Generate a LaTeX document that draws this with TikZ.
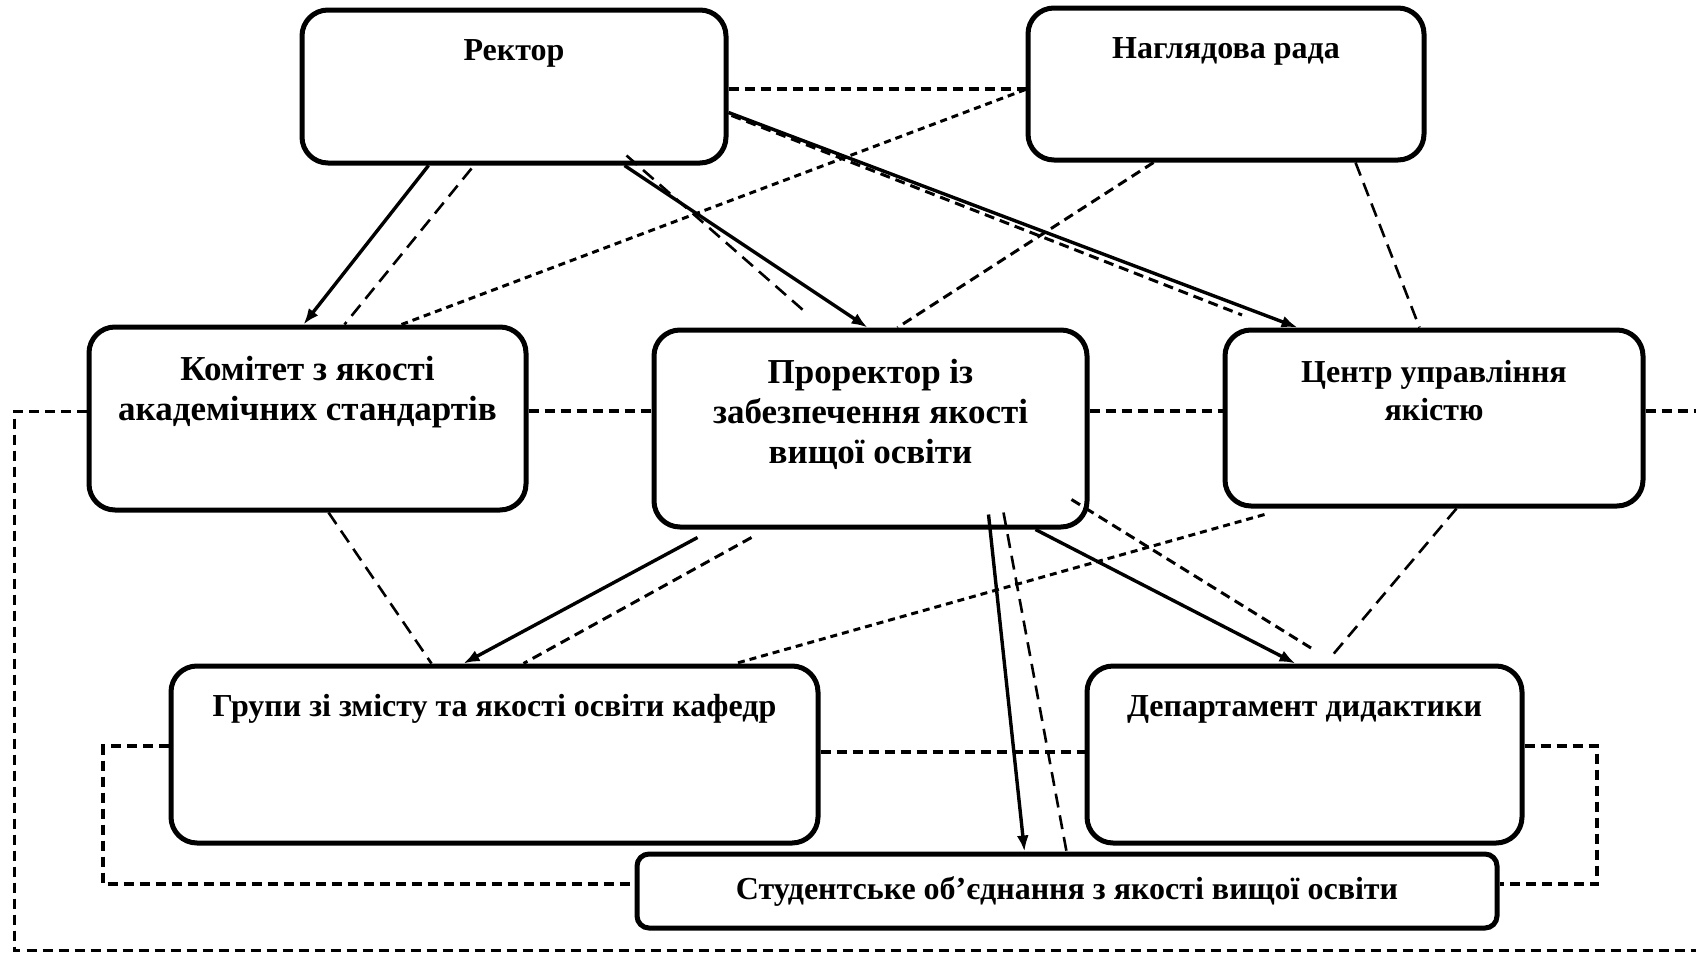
\documentclass[tikz,border=0pt]{standalone}
\usepackage{fontspec}
\setmainfont{Liberation Serif}
\usetikzlibrary{arrows.meta,calc}
\begin{document}
\begin{tikzpicture}[x=0.5pt,y=-0.5pt,
  box/.style={draw, line width=2.5pt, rounded corners=13pt, inner sep=0pt},
  txt/.style={font=\fontsize{16}{19}\selectfont\bfseries, inner sep=0pt, anchor=base},
  bigtxt/.style={txt, font=\fontsize{17.5}{20.2}\selectfont\bfseries},
  arr/.style={line width=1.7pt, -{Latex[length=8pt,width=6pt]}},
  dl/.style={line width=1.3pt, dash pattern=on 7pt off 4pt},
  dm/.style={line width=1.5pt, dash pattern=on 5pt off 3pt},
  ds/.style={line width=1.5pt, dash pattern=on 3.5pt off 2.5pt},
  dh/.style={line width=1.7pt, dash pattern=on 5pt off 3pt},
  frame/.style={line width=1.5pt, dash pattern=on 5pt off 3pt}
]
\fill[white] (0,0) rectangle (1696,953);
\useasboundingbox (0,0) rectangle (1696,953);

% boxes
\node[box, minimum width=212pt, minimum height=76.5pt] (rector) at (514,86.5) {};
\node[box, minimum width=198pt, minimum height=76pt] (nagl) at (1226,84) {};
\node[box, minimum width=218.5pt, minimum height=91.5pt] (komitet) at (307.5,418.5) {};
\node[box, minimum width=216.5pt, minimum height=98.5pt] (prorektor) at (870.5,428.5) {};
\node[box, minimum width=209pt, minimum height=88pt] (centr) at (1434,418) {};
\node[box, minimum width=323.5pt, minimum height=88.5pt] (grupy) at (494.5,754.5) {};
\node[box, minimum width=217.5pt, minimum height=88.5pt] (depart) at (1304.5,754.5) {};
\node[box, rounded corners=6pt, minimum width=430pt, minimum height=37pt] (stud) at (1067,891) {};

% texts
\node[txt] (rector-t) at (514,60) {Ректор};
\node[txt] (nagl-t) at (1226,58) {Наглядова рада};
\node[bigtxt] (komitet-t) at (307.5,380) {\begin{tabular}[t]{@{}c@{}}Комітет з якості\\академічних стандартів\end{tabular}};
\node[bigtxt] (prorektor-t) at (870.5,383) {\begin{tabular}[t]{@{}c@{}}Проректор із\\забезпечення якості\\вищої освіти\end{tabular}};
\node[txt] (centr-t) at (1434,382) {\begin{tabular}[t]{@{}c@{}}Центр управління\\якістю\end{tabular}};
\node[txt] (grupy-t) at (494.5,716) {Групи зі змісту та якості освіти кафедр};
\node[txt] (depart-t) at (1304.5,716) {Департамент дидактики};
\node[txt] (stud-t) at (1067,899) {Студентське об’єднання з якості вищої освіти};

% helper coordinates
\coordinate (hy0) at (0,89);
\coordinate (hy) at (0,411);
\coordinate (hy2) at (0,752);
\coordinate (hy3) at (0,746);
\coordinate (fl) at (14,950);
\coordinate (fr) at (1696,950);
\coordinate (rend) at (1696,411);
\coordinate (bl) at (103,884);
\coordinate (br) at (1597,884);
\coordinate (d2end) at (803,310);
\coordinate (d3end) at (1242,315);
\coordinate (d11end) at (1311,648);

% solid arrows
\draw[arr] ($(rector.south west)+(129,0)$) -- ($(komitet.north west)+(217,0)$);
\draw[arr] ($(rector.south west)+(325,0)$) -- ($(prorektor.north west)+(216,0)$);
\draw[arr] ($(rector.north east)+(0,105)$) -- ($(centr.north west)+(75,0)$);
\draw[arr] ($(prorektor.south west)+(46,8)$) -- ($(grupy.north west)+(295,0)$);
\draw[arr] ($(prorektor.south west)+(384,0)$) -- ($(depart.north west)+(211,0)$);
\draw[arr] ($(prorektor.south west)+(337,-15)$) -- ($(stud.north west)+(390,0)$);

% dashed diagonals
\draw[dl] ($(rector.south west)+(172,3)$) -- ($(komitet.north west)+(258,0)$);
\draw[dl] ($(rector.south west)+(327,-10)$) -- (d2end);
\draw[dm] ($(rector.north east)+(3,108)$) -- (d3end);
\draw[ds] ($(nagl.north west)+(0,84)$) -- ($(komitet.north west)+(315,0)$);
\draw[dm] ($(nagl.south west)+(128,0)$) -- ($(prorektor.north west)+(246,0)$);
\draw[dl] ($(nagl.south west)+(330,0)$) -- ($(centr.north west)+(197,0)$);
\draw[dl] ($(komitet.south west)+(242,0)$) -- ($(grupy.north west)+(263,0)$);
\draw[dm] ($(prorektor.south west)+(100,8)$) -- ($(grupy.north west)+(355,0)$);
\draw[ds] ($(centr.south west)+(42,6)$) -- ($(grupy.north west)+(567,0)$);
\draw[dm] ($(prorektor.south east)+(-18,-30)$) -- (d11end);
\draw[dl] ($(centr.south west)+(234,0)$) -- ($(depart.north west)+(246,-6)$);
\draw[dl] ($(prorektor.south west)+(352,-17)$) -- ($(stud.north west)+(432,0)$);

% horizontal dashed
\draw[dh] (rector.east |- hy0) -- (nagl.west |- hy0);
\draw[dh] (komitet.east |- hy) -- (prorektor.west |- hy);
\draw[dh] (prorektor.east |- hy) -- (centr.west |- hy);
\draw[dh] (centr.east |- hy) -- (rend);
\draw[frame] (komitet.west |- hy) -- (fl |- hy) -- (fl) -- (fr);
\draw[dh] (grupy.east |- hy2) -- (depart.west |- hy2);
\draw[dh] (grupy.west |- hy3) -- (bl |- hy3) -- (bl) -- (stud.west |- bl);
\draw[dh] (depart.east |- hy3) -- (br |- hy3) -- (br) -- (stud.east |- br);
\end{tikzpicture}
\end{document}
